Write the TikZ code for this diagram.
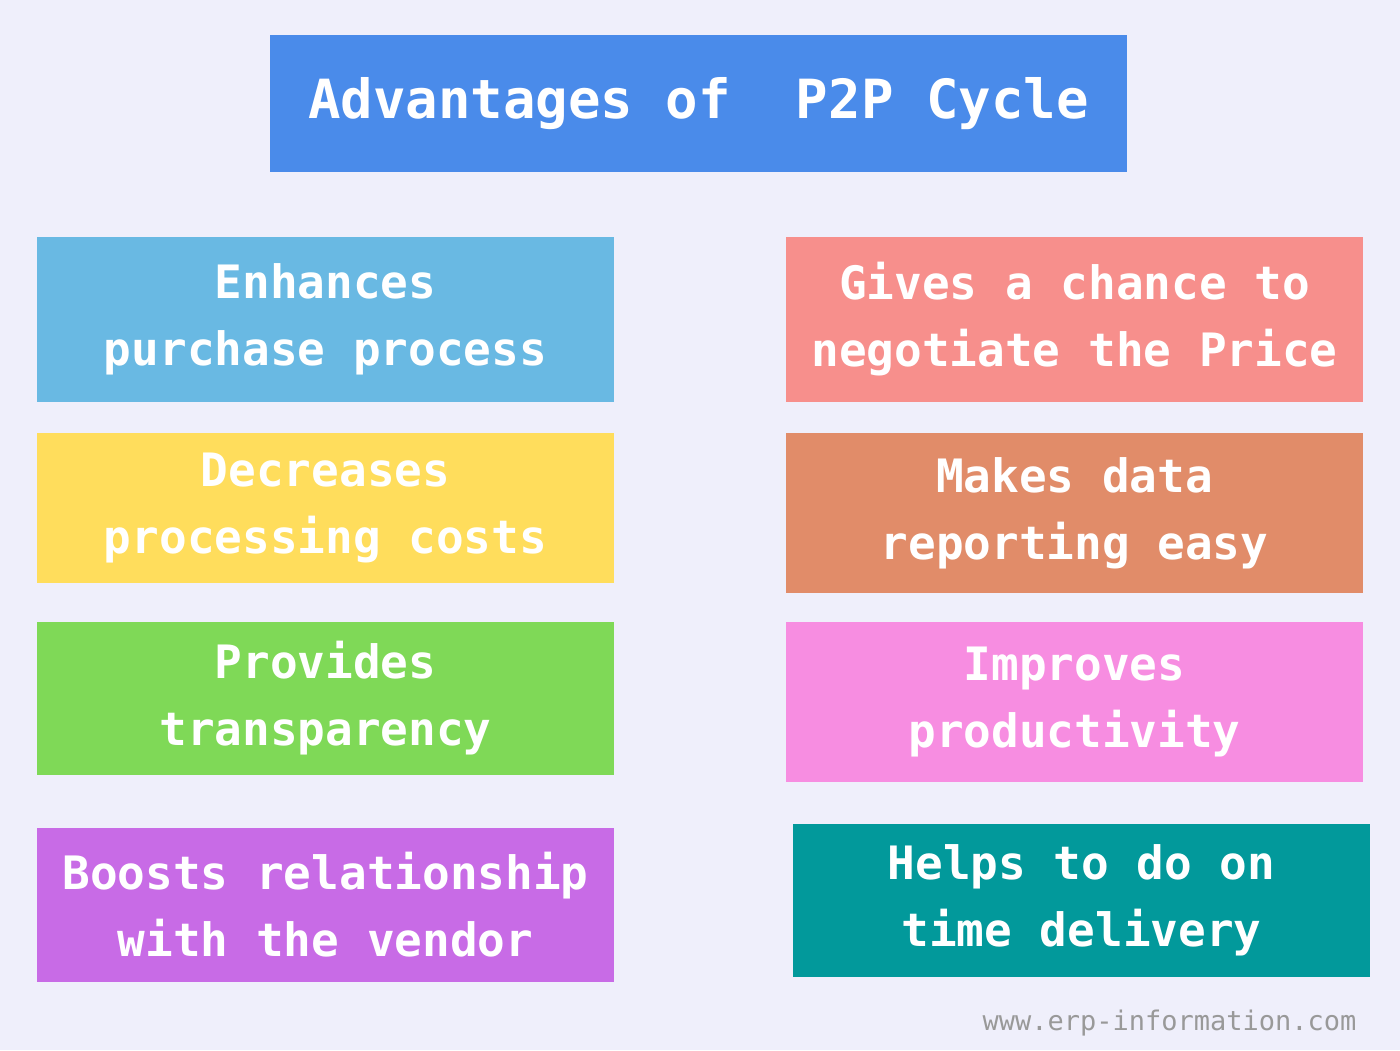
\documentclass[tikz,border=0pt]{standalone}
\usepackage{fontspec}
\setmonofont{DejaVu Sans Mono}
\usetikzlibrary{positioning}
\definecolor{bgcol}{HTML}{EFEFFB}
\definecolor{titlecol}{HTML}{4A8BEA}
\definecolor{skycol}{HTML}{69B9E3}
\definecolor{sunCol}{HTML}{FFDD5C}
\definecolor{leafcol}{HTML}{7FD957}
\definecolor{plumcol}{HTML}{C86BE6}
\definecolor{salmoncol}{HTML}{F78F8C}
\definecolor{claycol}{HTML}{E18C69}
\definecolor{pinkcol}{HTML}{F78DE1}
\definecolor{tealcol}{HTML}{02999B}
\tikzset{
  advbox/.style={inner sep=0pt, minimum width=577pt, align=center, text=white,
    font=\ttfamily\bfseries\fontsize{46}{67}\selectfont},
  titlebox/.style={fill=titlecol, inner sep=0pt, minimum width=857pt, minimum height=137pt,
    text=white, font=\ttfamily\bfseries\fontsize{54}{60}\selectfont}
}
\begin{document}
\begin{tikzpicture}[x=1pt,y=-1pt]
  \fill[bgcol] (0,0) rectangle (1400,1050);
  \useasboundingbox (0,0) rectangle (1400,1050);
  % title
  \node[titlebox] (title) at (698.5,103.5) {Advantages of~~P2P Cycle};
  % left column
  \node[advbox, fill=skycol, minimum height=165pt] (enhance) at (325.5,319.5) {Enhances\\purchase process};
  \node[advbox, fill=sunCol, minimum height=150pt] (decrease) at (325.5,508) {Decreases\\processing costs};
  \node[advbox, fill=leafcol, minimum height=153pt] (transp) at (325.5,698.5) {Provides\\transparency};
  \node[advbox, fill=plumcol, minimum height=154pt] (boost) at (325.5,905) {Boosts relationship\\with the vendor};
  % right column
  \node[advbox, fill=salmoncol, minimum height=165pt] (negot) at (1074.5,319.5) {Gives a chance to\\negotiate the Price};
  \node[advbox, fill=claycol, minimum height=160pt] (report) at (1074.5,513) {Makes data\\reporting easy};
  \node[advbox, fill=pinkcol, minimum height=160pt] (product) at (1074.5,702) {Improves\\productivity};
  \node[advbox, fill=tealcol, minimum height=153pt] (deliver) at (1081.5,900.5) {Helps to do on\\time delivery};
  % footer
  \node[anchor=base east, text=gray!80, font=\ttfamily\fontsize{27}{30}\selectfont] (site) at (1360,1030) {www.erp-information.com};
\end{tikzpicture}
\end{document}
